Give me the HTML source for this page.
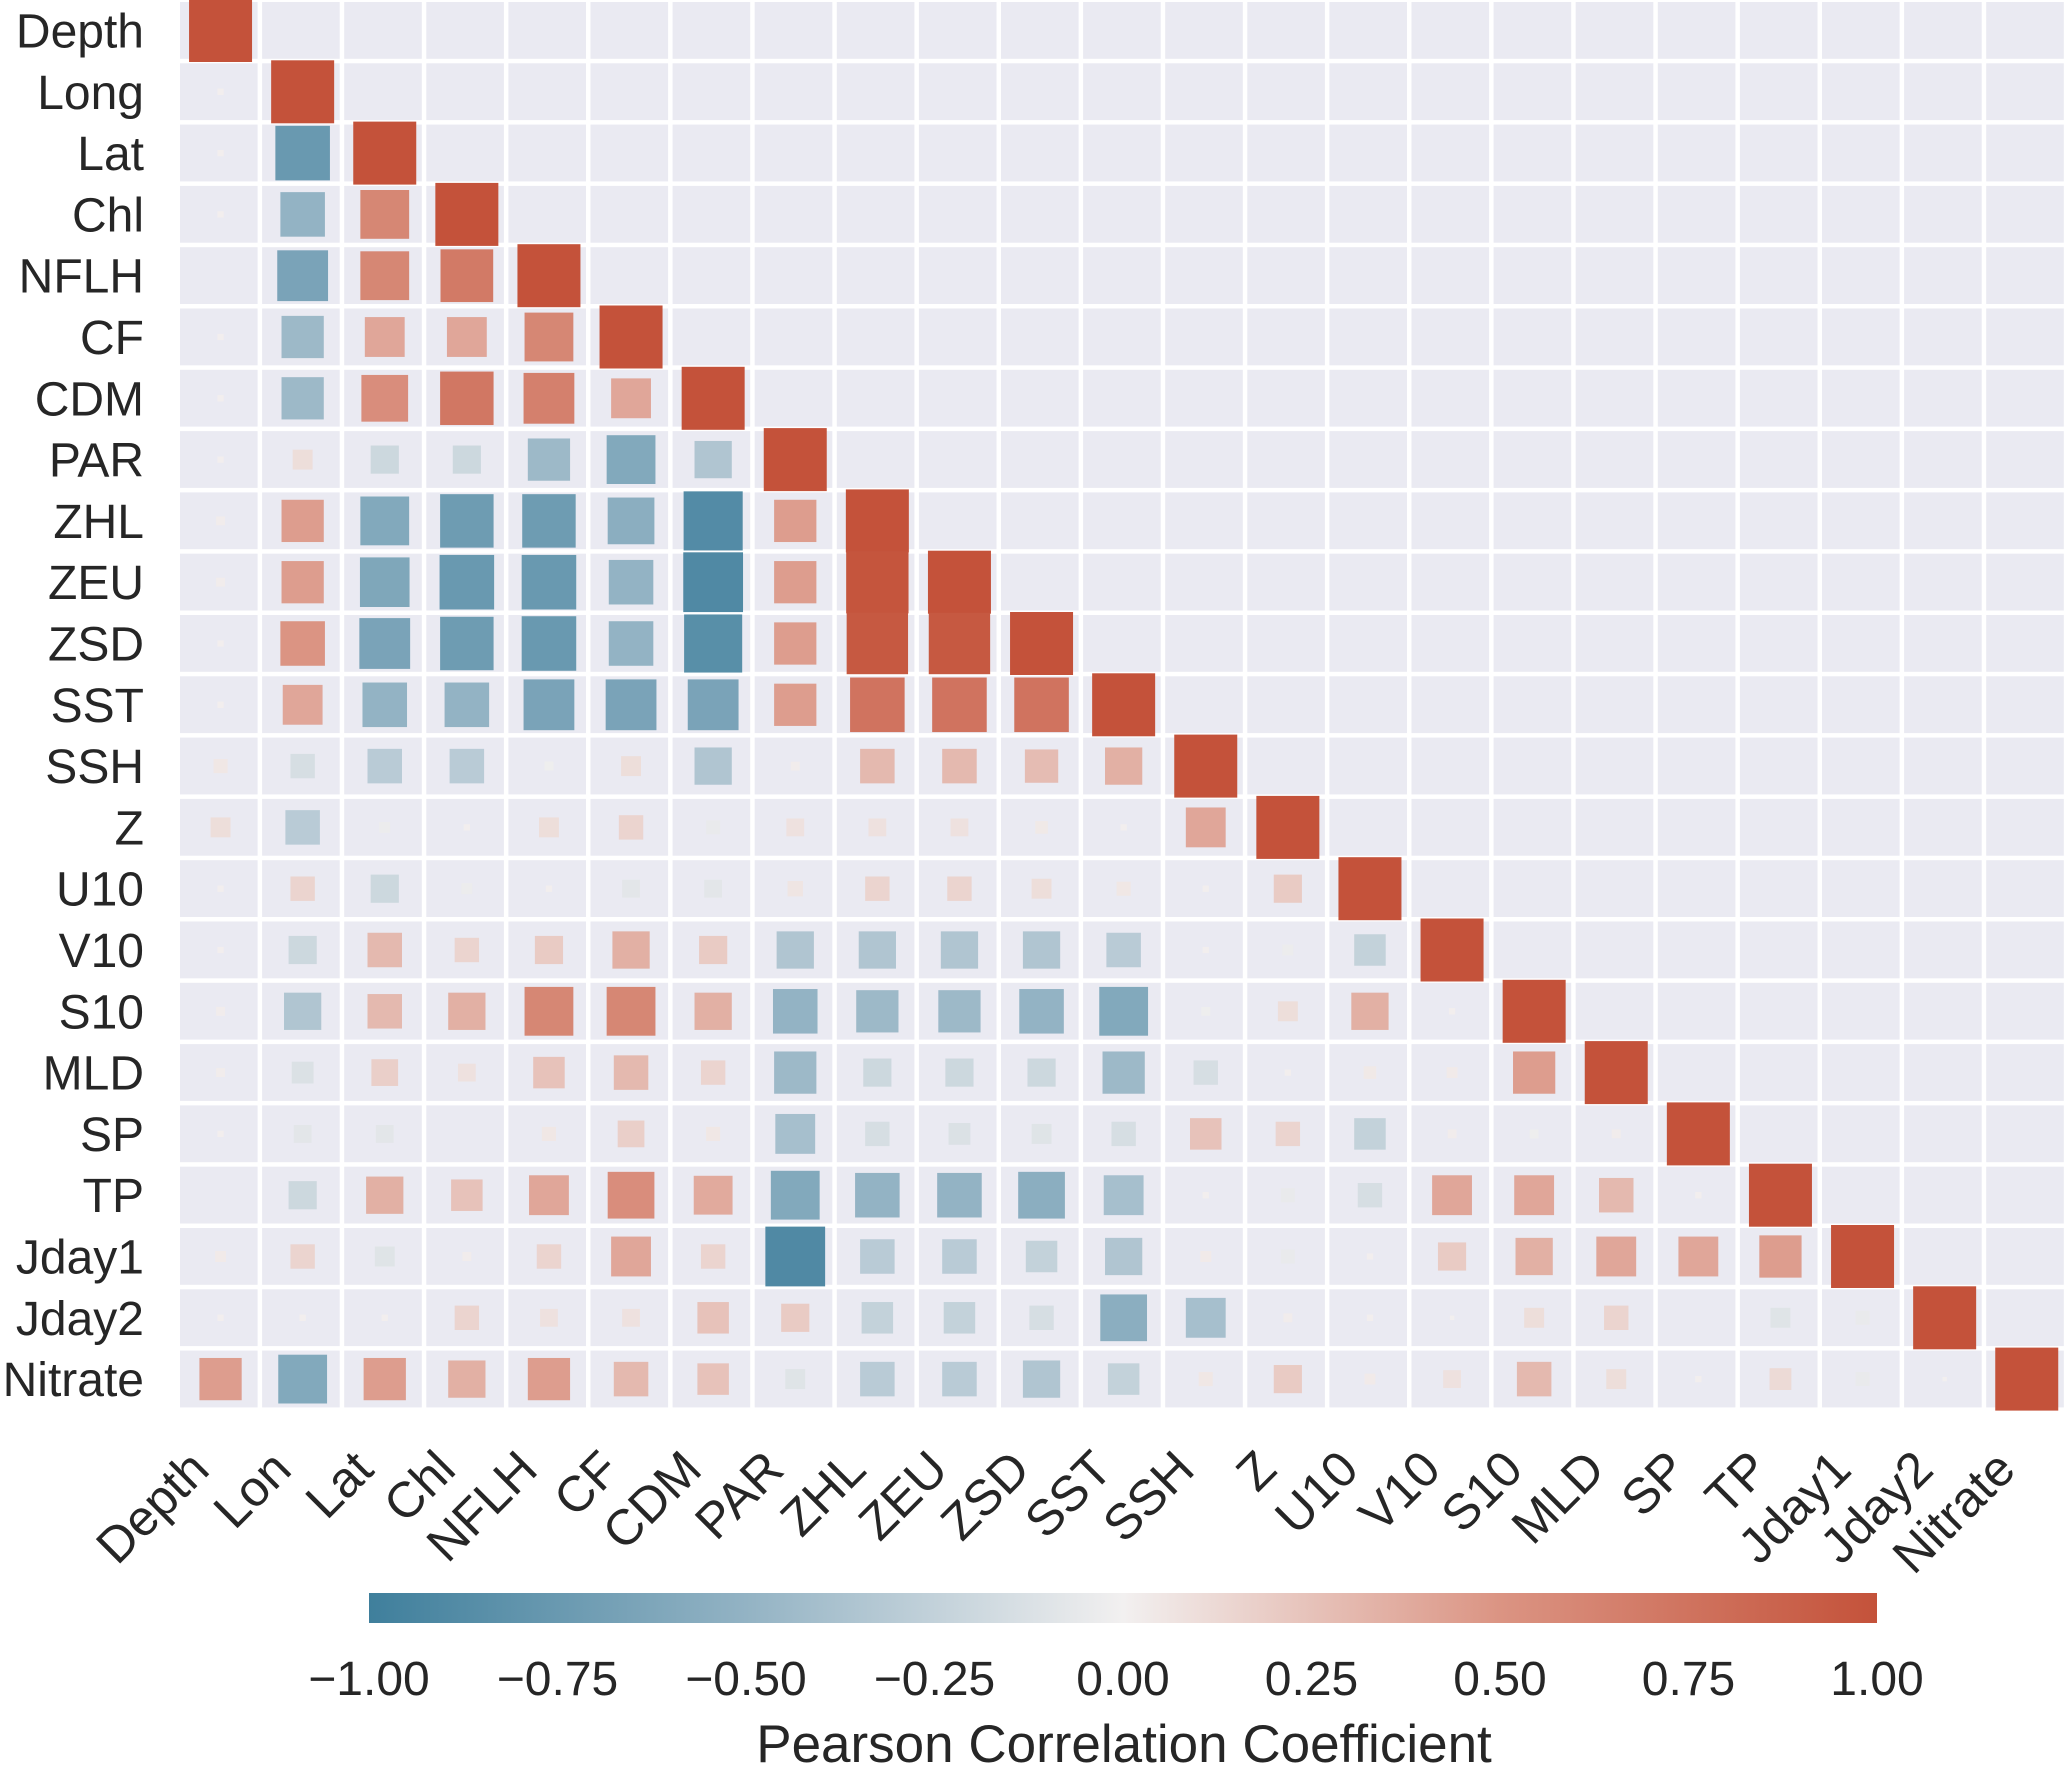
<!DOCTYPE html>
<html><head><meta charset="utf-8"><style>
html,body{margin:0;padding:0;background:#fff;}
svg{display:block;font-family:"Liberation Sans",Arial,sans-serif;}
</style></head><body>
<svg id="chart" width="2067" height="1766" viewBox="0 0 2067 1766" xmlns="http://www.w3.org/2000/svg">
<defs>
<linearGradient id="cbgrad" x1="0" x2="1" y1="0" y2="0">
<stop offset="0" stop-color="#3F7F9C"/><stop offset="0.25" stop-color="#93B3C4"/><stop offset="0.5" stop-color="#F2F0F0"/><stop offset="0.75" stop-color="#DB9483"/><stop offset="1" stop-color="#C4523A"/>
</linearGradient>
</defs>
<g id="cells"></g>
<g id="marks"></g>
<g id="ylabels"></g>
<g id="xlabels"></g>
<rect x="369" y="1593" width="1508" height="30" fill="url(#cbgrad)"/>
<g id="cbticks"></g>
<text x="1124" y="1762" font-size="53" fill="#262626" text-anchor="middle">Pearson Correlation Coefficient</text>
</svg>
<script>
const rowLabels = ["Depth","Long","Lat","Chl","NFLH","CF","CDM","PAR","ZHL","ZEU","ZSD","SST","SSH","Z","U10","V10","S10","MLD","SP","TP","Jday1","Jday2","Nitrate"];
const colLabels = ["Depth","Lon","Lat","Chl","NFLH","CF","CDM","PAR","ZHL","ZEU","ZSD","SST","SSH","Z","U10","V10","S10","MLD","SP","TP","Jday1","Jday2","Nitrate"];
const rLong = [0.01];
const rLat = [0.01,-0.75];
const rChl = [0.01,-0.5,0.6];
const rNFLH = [0.0,-0.65,0.6,0.7];
const rCF = [0.01,-0.45,0.4,0.4,0.6];
const rCDM = [0.01,-0.45,0.55,0.72,0.65,0.4];
const rPAR = [0.01,0.1,-0.2,-0.2,-0.45,-0.6,-0.35];
const rZHL = [0.02,0.45,-0.6,-0.72,-0.72,-0.55,-0.88,0.45];
const rZEU = [0.02,0.45,-0.62,-0.75,-0.75,-0.5,-0.9,0.45,0.98];
const rZSD = [0.01,0.5,-0.65,-0.72,-0.75,-0.5,-0.85,0.45,0.95,0.95];
const rSST = [0.01,0.4,-0.5,-0.5,-0.65,-0.65,-0.65,0.45,0.75,0.75,0.75];
const rSSH = [0.05,-0.15,-0.3,-0.3,-0.02,0.1,-0.35,0.02,0.3,0.3,0.28,0.35];
const rZ = [0.1,-0.3,-0.03,0.01,0.1,0.15,-0.05,0.08,0.08,0.08,0.04,0.01,0.4];
const rU10 = [0.01,0.15,-0.2,-0.03,0.01,-0.08,-0.08,0.06,0.15,0.15,0.1,0.05,0.01,0.2];
const rV10 = [0.01,-0.2,0.3,0.15,0.2,0.35,0.2,-0.35,-0.35,-0.35,-0.35,-0.3,0.01,-0.03,-0.25];
const rS10 = [0.02,-0.35,0.3,0.35,0.6,0.6,0.35,-0.5,-0.45,-0.45,-0.5,-0.6,-0.02,0.1,0.35,0.01];
const rMLD = [0.02,-0.12,0.18,0.08,0.25,0.3,0.15,-0.45,-0.2,-0.2,-0.2,-0.45,-0.15,0.01,0.04,0.03,0.45];
const rSP = [0.01,-0.08,-0.08,0.0,0.05,0.18,0.05,-0.4,-0.15,-0.12,-0.1,-0.15,0.25,0.15,-0.25,0.02,-0.02,0.02];
const rTP = [0.0,-0.2,0.35,0.25,0.4,0.55,0.38,-0.6,-0.5,-0.5,-0.55,-0.4,0.01,-0.05,-0.15,0.4,0.4,0.3,0.01];
const rJday1 = [0.03,0.15,-0.1,0.02,0.15,0.4,0.15,-0.9,-0.3,-0.3,-0.25,-0.35,0.03,-0.05,0.01,0.2,0.35,0.4,0.4,0.45];
const rJday2 = [0.01,0.01,0.01,0.15,0.08,0.08,0.25,0.2,-0.25,-0.25,-0.15,-0.55,-0.4,0.02,0.01,0.005,0.1,0.15,0.0,-0.1,-0.05];
const rNitrate = [0.45,-0.6,0.45,0.35,0.45,0.3,0.25,-0.1,-0.3,-0.3,-0.35,-0.25,0.05,0.2,0.03,0.08,0.3,0.1,0.01,0.12,-0.05,0.005];
const tickValues = [-1,-0.75,-0.5,-0.25,0,0.25,0.5,0.75,1];
const tickLabels = ["\u22121.00","\u22120.75","\u22120.50","\u22120.25","0.00","0.25","0.50","0.75","1.00"];

const rows = [[],rLong,rLat,rChl,rNFLH,rCF,rCDM,rPAR,rZHL,rZEU,rZSD,rSST,rSSH,rZ,rU10,rV10,rS10,rMLD,rSP,rTP,rJday1,rJday2,rNitrate];
const NS='http://www.w3.org/2000/svg';
const X0=179.5, PX=82.1, Y0=2, PY=61.3, MAXS=63;
const xc = i => X0 + (i+0.5)*PX;
const yc = j => Y0 + j*PY + 28.5;
const cbX = v => 369 + (v+1)/2*1508;
const stops=[[-1,[63,127,156]],[-0.5,[147,179,196]],[0,[242,240,240]],[0.5,[219,148,131]],[1,[196,82,58]]];
function color(v){
  v=Math.max(-1,Math.min(1,v));
  for(let k=0;k<stops.length-1;k++){
    const [a,ca]=stops[k],[b,cb]=stops[k+1];
    if(v>=a&&v<=b){const t=(v-a)/(b-a);
      return 'rgb('+ca.map((c,i)=>Math.round(c+(cb[i]-c)*t)).join(',')+')';}
  }
  return 'rgb(196,82,58)';
}
const cells=document.getElementById('cells'), marks=document.getElementById('marks');
const n=rowLabels.length;
for(let j=0;j<n;j++){for(let i=0;i<n;i++){
  const r=document.createElementNS(NS,'rect');
  r.setAttribute('x',X0+i*PX+0.5);r.setAttribute('y',Y0+j*PY);
  r.setAttribute('width',PX-4.5);r.setAttribute('height',PY-4.5);
  r.setAttribute('fill','#EAEAF2');
  
  
  cells.appendChild(r);
}}
for(let j=0;j<n;j++){
  const vals=rows[j].concat([1]);
  for(let i=0;i<vals.length;i++){
    const v=vals[i], s=MAXS*Math.sqrt(Math.abs(v));
    if(s<=0) continue;
    const m=document.createElementNS(NS,'rect');
    m.setAttribute('x',xc(i)-s/2);m.setAttribute('y',yc(j)-s/2);
    m.setAttribute('width',s);m.setAttribute('height',s);
    m.setAttribute('fill',color(v));
    
    
    marks.appendChild(m);
  }
}
const yl=document.getElementById('ylabels');
rowLabels.forEach((l,j)=>{
  const t=document.createElementNS(NS,'text');
  t.setAttribute('x',144);t.setAttribute('y',yc(j)+17);
  t.setAttribute('text-anchor','end');t.setAttribute('font-size','48');t.setAttribute('fill','#262626');
  t.textContent=l;
  
  
  yl.appendChild(t);
});
const xl=document.getElementById('xlabels');
colLabels.forEach((l,i)=>{
  const t=document.createElementNS(NS,'text');
  const x=xc(i)-9, y=1472;
  t.setAttribute('x',x);t.setAttribute('y',y);
  t.setAttribute('transform','rotate(-45 '+x+' '+y+')');
  t.setAttribute('text-anchor','end');t.setAttribute('font-size','50');t.setAttribute('fill','#262626');
  t.textContent=l;
  
  
  xl.appendChild(t);
});
const cb=document.getElementById('cbticks');
tickValues.forEach((v,k)=>{
  const t=document.createElementNS(NS,'text');
  t.setAttribute('x',cbX(v));t.setAttribute('y',1695);
  t.setAttribute('text-anchor','middle');t.setAttribute('font-size','48');t.setAttribute('fill','#262626');
  t.textContent=tickLabels[k];
  
  
  cb.appendChild(t);
});
</script>
</body></html>
